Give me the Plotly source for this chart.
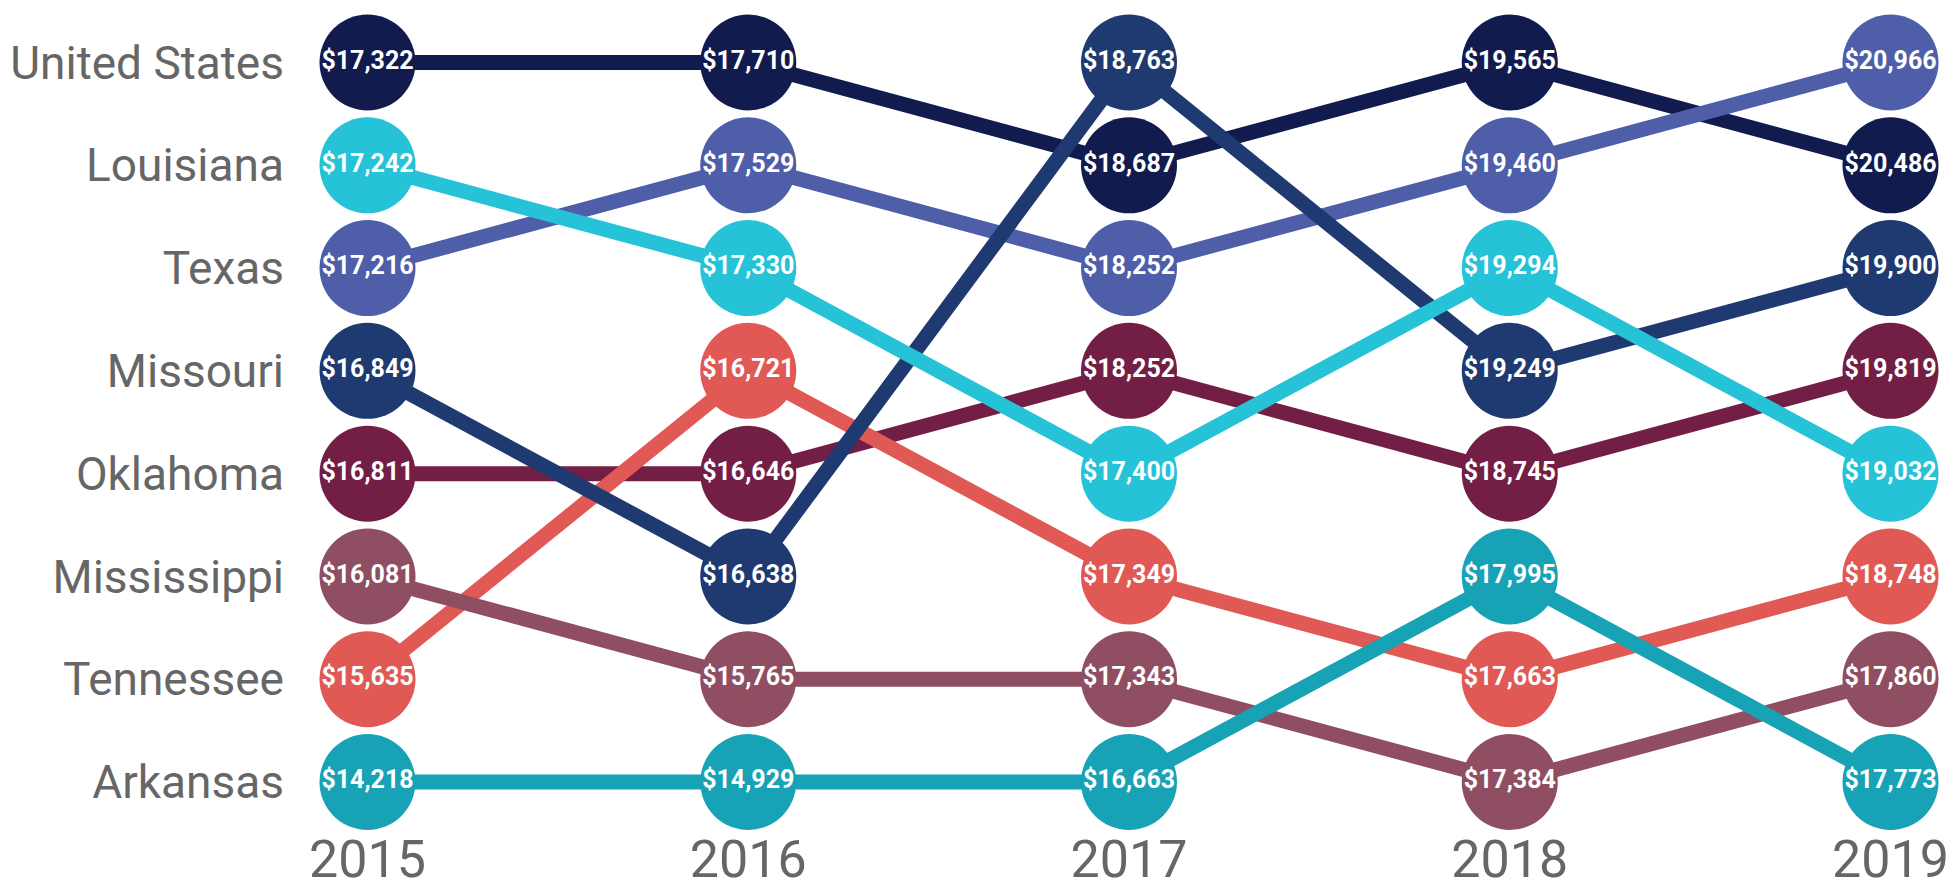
import plotly.graph_objects as go

years = [2015, 2016, 2017, 2018, 2019]
states = ["United States", "Louisiana", "Texas", "Missouri", "Oklahoma",
          "Mississippi", "Tennessee", "Arkansas"]

united_states = [17322, 17710, 18687, 19565, 20486]
louisiana = [17242, 17330, 17400, 19294, 19032]
texas = [17216, 17529, 18252, 19460, 20966]
missouri = [16849, 16638, 18763, 19249, 19900]
oklahoma = [16811, 16646, 18252, 18745, 19819]
mississippi = [16081, 15765, 17343, 17384, 17860]
tennessee = [15635, 16721, 17349, 17663, 18748]
arkansas = [14218, 14929, 16663, 17995, 17773]

values = {
    "United States": united_states,
    "Louisiana": louisiana,
    "Texas": texas,
    "Missouri": missouri,
    "Oklahoma": oklahoma,
    "Mississippi": mississippi,
    "Tennessee": tennessee,
    "Arkansas": arkansas,
}

colors = {
    "United States": "#111b4e",
    "Louisiana": "#26c2d7",
    "Texas": "#4f5ea8",
    "Missouri": "#1f3a70",
    "Oklahoma": "#731f45",
    "Mississippi": "#8f4e61",
    "Tennessee": "#e05954",
    "Arkansas": "#17a2b5",
}

# ranks per year (ties broken by list order)
ranks = {s: [] for s in states}
for j in range(len(years)):
    order = sorted(range(len(states)), key=lambda i: (-values[states[i]][j], i))
    for r, i in enumerate(order):
        ranks[states[i]].append(r + 1)

draw_order = ["United States", "Texas", "Oklahoma", "Tennessee", "Mississippi",
              "Arkansas", "Missouri", "Louisiana"]

fig = go.Figure()
for s in draw_order:
    fig.add_trace(go.Scatter(
        x=years, y=ranks[s], mode="lines",
        line=dict(color=colors[s], width=15),
        hoverinfo="skip", showlegend=False, cliponaxis=False,
    ))
for s in draw_order:
    fig.add_trace(go.Scatter(
        x=years, y=ranks[s], mode="markers+text",
        marker=dict(color=colors[s], size=96, line=dict(width=0)),
        text=[f"${v:,}" for v in values[s]],
        textposition="middle center",
        textfont=dict(family="Roboto", size=25, color="white", weight="bold"),
        name=s, showlegend=False, cliponaxis=False,
    ))

px_per_year = 380.75
left_m = 300
x0 = 2015 - (367.5 - left_m) / px_per_year
x1 = 2019 + (1952 - 1890.5) / px_per_year

bottom_m = 60
row = 102.79
plot_h = 884 - bottom_m
y_top = 1 - 62.5 / row
y_bot = 8 + (plot_h - 782) / row

fig.update_layout(
    width=1952, height=884,
    margin=dict(l=left_m, r=0, t=0, b=bottom_m, autoexpand=False),
    paper_bgcolor="white", plot_bgcolor="white",
    font=dict(family="Roboto", color="#666666"),
    xaxis=dict(
        range=[x0, x1], tickvals=years, ticktext=[str(y) for y in years],
        showgrid=False, zeroline=False, showline=False, ticks="",
        tickfont=dict(family="Roboto", size=52, color="#666666"),
    ),
    yaxis=dict(
        range=[y_bot, y_top], tickvals=list(range(1, 9)), ticktext=states,
        showgrid=False, zeroline=False, showline=False, ticks="",
        tickfont=dict(family="Roboto", size=46, color="#666666"),
        ticklabelstandoff=15,
    ),
)

fig.write_html(
    "out.html",
    config={"displayModeBar": False},
    post_script="document.body.style.margin='0';document.body.style.overflow='hidden';",
)
